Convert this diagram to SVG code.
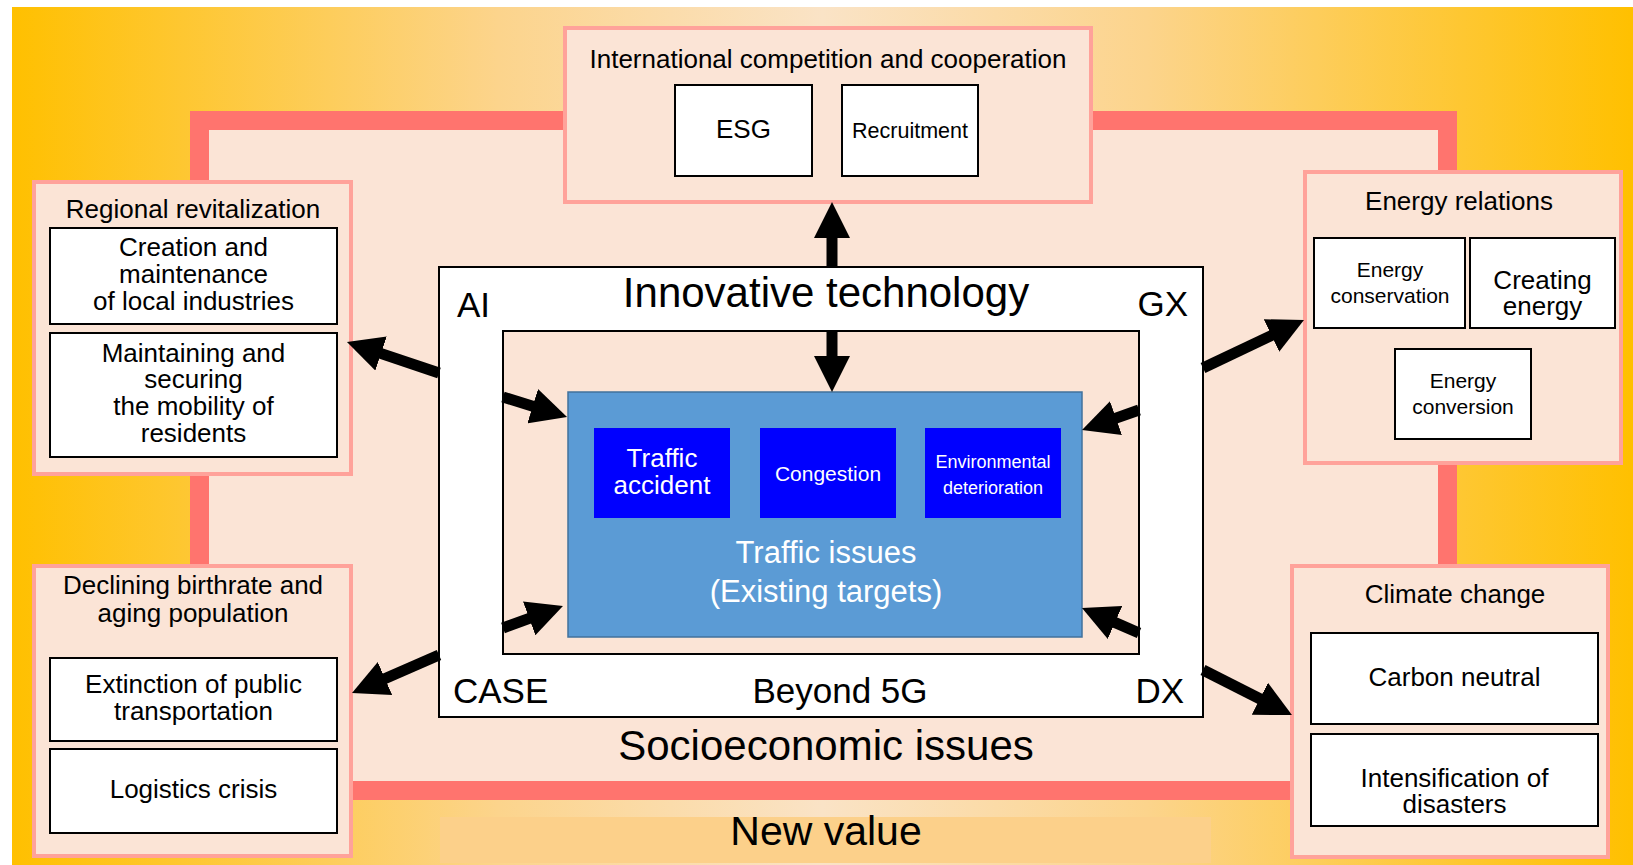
<svg xmlns="http://www.w3.org/2000/svg" width="1633" height="865" viewBox="0 0 1633 865">
<defs>
<linearGradient id="bg" x1="0" y1="0" x2="1" y2="0">
<stop offset="0" stop-color="#FFC000"/>
<stop offset="0.3" stop-color="#FCD48C"/>
<stop offset="0.5" stop-color="#FAE3C6"/>
<stop offset="0.7" stop-color="#FCD48C"/>
<stop offset="1" stop-color="#FFC000"/>
</linearGradient>
<marker id="ah" markerUnits="userSpaceOnUse" viewBox="0 0 36 36" markerWidth="36" markerHeight="36" refX="6" refY="18" orient="auto">
<path d="M0,0 L36,18 L0,36 Z" fill="#000"/>
</marker>
<style>
text{font-family:"Liberation Sans",Arial,Helvetica,sans-serif;font-size:26px;fill:#000;text-anchor:middle}
.grp{fill:#FBE4D6;stroke:#FFA29A;stroke-width:4}
.wb{fill:#FFFFFF;stroke:#000;stroke-width:2}
.bb{fill:#0000FF}
.w{fill:#FFFFFF}
.s21{font-size:21px}
.big{font-size:42px}
.lab{font-size:35px}
.arr{stroke:#000;stroke-width:11;fill:none;marker-end:url(#ah)}
</style>
</defs>
<rect x="0" y="0" width="1633" height="865" fill="#FFFFFF"/>
<rect x="12" y="7" width="1621" height="858" fill="url(#bg)"/>
<rect id="frame" x="199.5" y="120.5" width="1248" height="670" fill="#FBE4D6" stroke="#FF746E" stroke-width="19"/>
<g id="new-value">
<rect x="440" y="817" width="771" height="46" fill="#FCD08A"/>
<text x="826" y="845" style="font-size:41px">New value</text>
</g>
<text x="826" y="760" class="big">Socioeconomic issues</text>
<g id="international">
<rect class="grp" x="565" y="28" width="526" height="174"/>
<text x="828" y="68">International competition and cooperation</text>
<rect class="wb" x="675" y="85" width="137" height="91"/>
<text x="743.5" y="138">ESG</text>
<rect class="wb" x="842" y="85" width="136" height="91"/>
<text x="910" y="138" style="font-size:21.5px">Recruitment</text>
</g>
<g id="regional">
<rect class="grp" x="34" y="182" width="317" height="292"/>
<text x="193" y="218">Regional revitalization</text>
<rect class="wb" x="50" y="228" width="287" height="96"/>
<text x="193.5" y="256">Creation and</text>
<text x="193.5" y="283">maintenance</text>
<text x="193.5" y="310">of local industries</text>
<rect class="wb" x="50" y="333" width="287" height="124"/>
<text x="193.5" y="362">Maintaining and</text>
<text x="193.5" y="388">securing</text>
<text x="193.5" y="415">the mobility of</text>
<text x="193.5" y="442">residents</text>
</g>
<g id="declining">
<rect class="grp" x="34" y="566" width="317" height="290"/>
<text x="193" y="594">Declining birthrate and</text>
<text x="193" y="622">aging population</text>
<rect class="wb" x="50" y="658" width="287" height="83"/>
<text x="193.5" y="693">Extinction of public</text>
<text x="193.5" y="720">transportation</text>
<rect class="wb" x="50" y="749" width="287" height="84"/>
<text x="193.5" y="798">Logistics crisis</text>
</g>
<g id="energy">
<rect class="grp" x="1305" y="172" width="316" height="291"/>
<text x="1459" y="210">Energy relations</text>
<rect class="wb" x="1314" y="238" width="151" height="90"/>
<text x="1390" y="277" class="s21">Energy</text>
<text x="1390" y="303" class="s21">conservation</text>
<rect class="wb" x="1470" y="238" width="145" height="90"/>
<text x="1542.5" y="289">Creating</text>
<text x="1542.5" y="315">energy</text>
<rect class="wb" x="1395" y="349" width="136" height="90"/>
<text x="1463" y="388" class="s21">Energy</text>
<text x="1463" y="414" class="s21">conversion</text>
</g>
<g id="climate">
<rect class="grp" x="1292" y="566" width="316" height="291"/>
<text x="1455" y="603">Climate change</text>
<rect class="wb" x="1311" y="633" width="287" height="91"/>
<text x="1454.5" y="686">Carbon neutral</text>
<rect class="wb" x="1311" y="734" width="287" height="92"/>
<text x="1454.5" y="787">Intensification of</text>
<text x="1454.5" y="813">disasters</text>
</g>
<g id="innovative-technology">
<rect class="wb" x="439" y="267" width="764" height="450"/>
<text x="826" y="307" class="big">Innovative technology</text>
<text x="457" y="317" class="lab" style="text-anchor:start">AI</text>
<text x="1188" y="316" class="lab" style="text-anchor:end">GX</text>
<text x="453" y="703" class="lab" style="text-anchor:start">CASE</text>
<text x="1184" y="703" class="lab" style="text-anchor:end">DX</text>
<text x="840" y="703" class="lab">Beyond 5G</text>
<rect x="503" y="331" width="636" height="323" fill="#FBE4D6" stroke="#000" stroke-width="2"/>
</g>
<g id="traffic-issues">
<rect x="568" y="392" width="514" height="245" fill="#5B9BD5" stroke="#41719C" stroke-width="1.5"/>
<rect class="bb" x="594" y="428" width="136" height="90"/>
<text x="662" y="467" class="w">Traffic</text>
<text x="662" y="494" class="w">accident</text>
<rect class="bb" x="760" y="428" width="136" height="90"/>
<text x="828" y="481" class="w s21">Congestion</text>
<rect class="bb" x="925" y="428" width="136" height="90"/>
<text x="993" y="468" class="w" style="font-size:18px">Environmental</text>
<text x="993" y="494" class="w" style="font-size:18px">deterioration</text>
<text x="826" y="563" class="w" style="font-size:31px">Traffic issues</text>
<text x="826" y="602" class="w" style="font-size:31px">(Existing targets)</text>
</g>
<g id="connectors">
<line class="arr" x1="832" y1="267" x2="832" y2="232"/>
<line class="arr" x1="832" y1="331" x2="832" y2="362"/>
<line class="arr" x1="439" y1="373" x2="375.4" y2="351.6"/>
<line class="arr" x1="503" y1="397" x2="538.4" y2="408"/>
<line class="arr" x1="503" y1="628" x2="534.8" y2="616.3"/>
<line class="arr" x1="439" y1="655" x2="379.5" y2="681"/>
<line class="arr" x1="1203" y1="368" x2="1276.9" y2="332.9"/>
<line class="arr" x1="1139" y1="410" x2="1110.3" y2="420.1"/>
<line class="arr" x1="1139" y1="633" x2="1109.5" y2="620.1"/>
<line class="arr" x1="1203" y1="670" x2="1265.2" y2="701.5"/>
</g>
</svg>
